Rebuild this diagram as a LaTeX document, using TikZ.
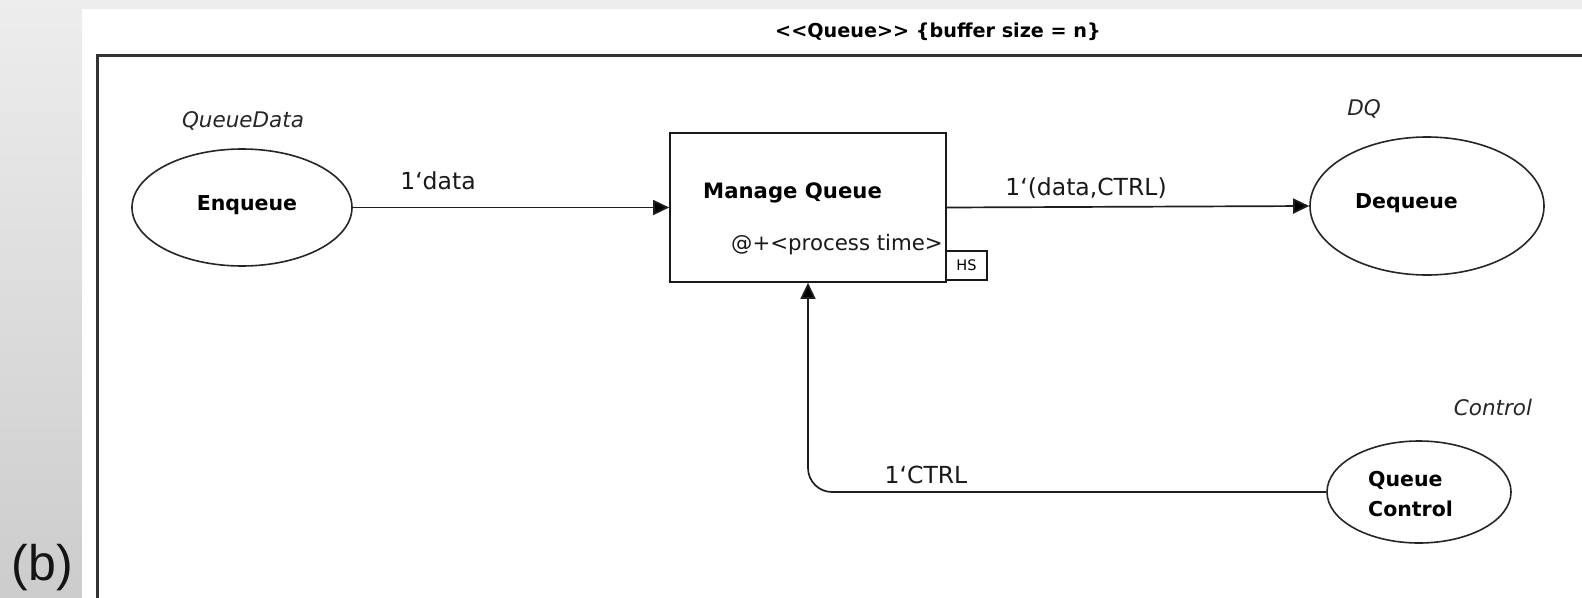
\documentclass[tikz,border=0pt]{standalone}
\usepackage{fontspec}
\usetikzlibrary{shapes.geometric,arrows.meta}
\newfontfamily\netfont{DejaVu Sans}
\newfontfamily\tagfont{Liberation Sans}
\newcommand{\fsz}[1]{\fontsize{#1pt}{#1pt}\selectfont}

\begin{document}
\begin{tikzpicture}[x=1pt,y=-1pt,
  place/.style={ellipse,draw=black!85,line width=1.6pt,inner sep=0pt},
  trans/.style={rectangle,draw=black!90,line width=1.7pt,inner sep=0pt},
  arc/.style={draw=black!88,line width=1.7pt,-{Triangle[length=16pt,width=15pt,fill=black]}},
  pname/.style={font=\netfont\bfseries\fsz{20.5},text=black,inner sep=0pt},
  ptype/.style={font=\netfont\itshape\fsz{21.5},text=black!85,inner sep=0pt},
  inscr/.style={font=\netfont\fsz{23.5},text=black!90,inner sep=0pt}]
\useasboundingbox (0,0) rectangle (1582,597);

% page background and white sheet
\fill[top color=black!7,bottom color=black!20] (-2,-2) rectangle (1585,600);
\fill[white] (82,9) rectangle (1585,600);

% module frame
\draw[black!80,line width=3pt] (97,600) -- (97,55) -- (1585,55);
\node[font=\netfont\bfseries\fsz{19.2},inner sep=0pt,anchor=base] (title) at (938,37)
  {<<Queue>> \{buffer size = n\}};

% places
\node[place,minimum width=220pt,minimum height=117pt] (enq) at (242,207.5) {};
\node[place,minimum width=234pt,minimum height=138pt] (deq) at (1427,206) {};
\node[place,minimum width=184pt,minimum height=102pt] (qc) at (1419,492) {};

\node[pname,anchor=base] (enqtxt) at (247,210) {Enqueue};
\node[pname,anchor=base] (deqtxt) at (1406.5,208.3) {Dequeue};
\node[pname,anchor=base west] (qctxta) at (1368,486.7) {Queue};
\node[pname,anchor=base west] (qctxtb) at (1368,516.7) {Control};

\node[ptype,anchor=base] (enqtype) at (243,127) {QueueData};
\node[ptype,anchor=base] (deqtype) at (1364,115) {DQ};
\node[ptype,anchor=base] (qctype) at (1493,415) {Control};

% transition
\node[trans,minimum width=276pt,minimum height=149pt] (mq) at (808,207.5) {};
\node[font=\netfont\bfseries\fsz{21.2},inner sep=0pt,anchor=base west] (mqtxt) at (703,198) {Manage Queue};
\node[font=\netfont\fsz{21.3},text=black!90,inner sep=0pt,anchor=base east] (mqtime) at (943,250) {@+<process time>};
\node[rectangle,draw=black!90,line width=1.3pt,minimum width=41pt,minimum height=29pt,
  inner sep=0pt,font=\netfont\fsz{14.5}] (hs) at (966.5,265.5) {HS};

% arcs
\draw[arc] (enq.east) -- (mq.west);
\draw[arc] (mq.east) -- (deq.west);
\draw[arc,rounded corners=24pt] (qc.west) -| (mq.south);

\node[inscr,anchor=base] (lbldata) at (438,189) {1‘data};
\node[inscr,anchor=base] (lblout) at (1086,195) {1‘(data,CTRL)};
\node[inscr,anchor=base] (lblctrl) at (926,483) {1‘CTRL};

% figure tag
\node[font=\tagfont\fsz{50},text=black!92,inner sep=0pt,anchor=base] (tag) at (42.5,580) {(b)};
\end{tikzpicture}
\end{document}
